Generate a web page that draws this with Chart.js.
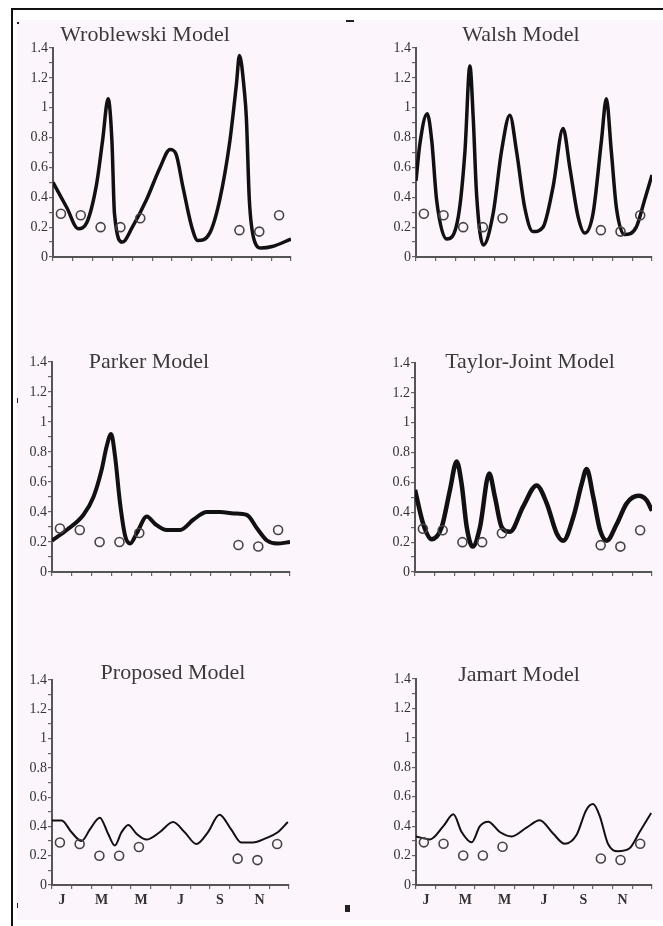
<!DOCTYPE html>
<html>
<head>
<meta charset="utf-8">
<script src="https://cdn.jsdelivr.net/npm/chart.js@4.4.1/dist/chart.umd.min.js"></script>
<style>
  body { margin: 0; width: 663px; height: 926px; overflow: hidden; position: relative; background: #fff; }
  #frame { position: absolute; left: 11px; top: 8px; width: 660px; height: 930px; border-top: 2px solid #111; border-left: 2px solid #111; }
  #paper { position: absolute; left: 17px; top: 20px; right: 0; bottom: 6px; background: #fcf5fc; }
  .speck { position: absolute; background: #222; }
  canvas { position: absolute; }
</style>
</head>
<body>
<div id="frame"></div>
<div id="paper"></div>
<div class="speck" style="left:17px;top:22px;width:2px;height:2px"></div>
<div class="speck" style="left:346px;top:20px;width:8px;height:2px"></div>
<div class="speck" style="left:17px;top:398px;width:1px;height:5px"></div>
<div class="speck" style="left:17px;top:903px;width:1px;height:5px"></div>
<div class="speck" style="left:345px;top:905px;width:5px;height:7px"></div>

<canvas id="c1"></canvas>
<canvas id="c2"></canvas>
<canvas id="c3"></canvas>
<canvas id="c4"></canvas>
<canvas id="c5"></canvas>
<canvas id="c6"></canvas>

<script>
// tick labels
const monthLabels = ['J', '', 'M', '', 'M', '', 'J', '', 'S', '', 'N', '', ''];
const yTickLabels = ['0', '0.2', '0.4', '0.6', '0.8', '1', '1.2', '1.4'];

// observed values (same in every panel), x in months from 1 Jan
const obsX = [0.4, 1.4, 2.4, 3.4, 4.4, 9.4, 10.4, 11.4];
const obsY = [0.29, 0.28, 0.20, 0.20, 0.26, 0.18, 0.17, 0.28];

// model curves
const wroX = [0, 0.7, 1.27, 1.7, 2.2, 2.5, 2.78, 2.97, 3.1, 3.5, 4.0, 4.7, 5.4, 5.9, 6.2, 6.55, 7.0, 7.3, 7.9, 8.4, 8.9, 9.25, 9.4, 9.65, 9.75, 9.9, 10.15, 10.5, 11.05, 12];
const wroY = [0.50, 0.33, 0.19, 0.23, 0.49, 0.78, 1.06, 0.78, 0.29, 0.10, 0.20, 0.38, 0.60, 0.72, 0.69, 0.47, 0.20, 0.11, 0.16, 0.38, 0.76, 1.16, 1.35, 1.11, 0.93, 0.38, 0.11, 0.06, 0.07, 0.12];

const walX = [0, 0.2, 0.57, 0.8, 1.05, 1.56, 2.15, 2.49, 2.74, 2.91, 3.08, 3.42, 3.92, 4.35, 4.77, 5.11, 5.53, 5.95, 6.46, 6.97, 7.48, 7.82, 8.24, 8.58, 9.0, 9.43, 9.68, 9.93, 10.19, 10.6, 11.2, 11.62, 12];
const walY = [0.51, 0.76, 0.96, 0.78, 0.38, 0.12, 0.27, 0.71, 1.28, 0.93, 0.42, 0.08, 0.29, 0.71, 0.95, 0.71, 0.33, 0.17, 0.20, 0.47, 0.86, 0.60, 0.27, 0.16, 0.29, 0.78, 1.06, 0.71, 0.33, 0.15, 0.20, 0.38, 0.55];

const parX = [0, 0.74, 1.58, 2.09, 2.5, 2.76, 2.98, 3.18, 3.43, 3.69, 3.94, 4.28, 4.78, 5.2, 5.79, 6.46, 7.14, 7.81, 8.48, 9.16, 9.83, 10.34, 10.84, 11.35, 12];
const parY = [0.21, 0.28, 0.38, 0.50, 0.68, 0.84, 0.92, 0.77, 0.46, 0.24, 0.19, 0.26, 0.37, 0.32, 0.28, 0.28, 0.35, 0.40, 0.40, 0.39, 0.38, 0.29, 0.21, 0.19, 0.20];

const tayX = [0, 0.42, 0.84, 1.35, 1.77, 2.11, 2.36, 2.62, 2.92, 3.29, 3.76, 4.05, 4.39, 4.81, 5.48, 6.16, 6.67, 7.17, 7.51, 8.02, 8.44, 8.69, 9.03, 9.37, 9.71, 10.21, 10.72, 11.31, 11.73, 12];
const tayY = [0.55, 0.32, 0.22, 0.30, 0.55, 0.74, 0.59, 0.30, 0.17, 0.30, 0.66, 0.50, 0.30, 0.27, 0.44, 0.58, 0.46, 0.26, 0.21, 0.37, 0.59, 0.69, 0.50, 0.28, 0.21, 0.32, 0.46, 0.51, 0.48, 0.41];

const proX = [0, 0.49, 0.99, 1.5, 1.92, 2.42, 2.84, 3.18, 3.52, 3.86, 4.28, 4.78, 5.45, 6.13, 6.72, 7.31, 7.89, 8.48, 9.07, 9.58, 10.17, 10.84, 11.43, 11.94];
const proY = [0.44, 0.44, 0.36, 0.30, 0.38, 0.46, 0.35, 0.27, 0.36, 0.41, 0.35, 0.31, 0.36, 0.43, 0.36, 0.28, 0.36, 0.48, 0.38, 0.29, 0.29, 0.32, 0.36, 0.43];

const jamX = [0, 0.71, 1.39, 1.9, 2.32, 2.83, 3.25, 3.67, 4.26, 4.86, 5.62, 6.29, 6.97, 7.56, 8.16, 8.66, 9.0, 9.34, 9.76, 10.27, 10.86, 11.37, 11.96];
const jamY = [0.33, 0.31, 0.40, 0.48, 0.36, 0.29, 0.40, 0.43, 0.36, 0.33, 0.39, 0.44, 0.35, 0.28, 0.34, 0.51, 0.55, 0.47, 0.28, 0.23, 0.25, 0.36, 0.49];

// where each small chart sits on the page (plot area box) and its title offset
const panels = [
  { id: 'c1', title: 'Wroblewski Model', xs: wroX, ys: wroY, left: 53,  top: 48,  w: 238, h: 209, tdx: 92,  tdy: -13, lw: 3.5, months: false },
  { id: 'c2', title: 'Walsh Model',      xs: walX, ys: walY, left: 416, top: 48,  w: 236, h: 209, tdx: 105, tdy: -13, lw: 3.5, months: false },
  { id: 'c3', title: 'Parker Model',     xs: parX, ys: parY, left: 52,  top: 362, w: 238, h: 210, tdx: 97,  tdy: 0,   lw: 4,   months: false },
  { id: 'c4', title: 'Taylor-Joint Model', xs: tayX, ys: tayY, left: 415, top: 363, w: 237, h: 209, tdx: 115, tdy: -1, lw: 4.5, months: false },
  { id: 'c5', title: 'Proposed Model',   xs: proX, ys: proY, left: 52,  top: 680, w: 237, h: 205, tdx: 121, tdy: -7,  lw: 2,   months: true },
  { id: 'c6', title: 'Jamart Model',     xs: jamX, ys: jamY, left: 416, top: 679, w: 236, h: 206, tdx: 103, tdy: -4,  lw: 2,   months: true }
];

const AXW = 45, PADT = 32, PADR = 10, AXH = 28;
const serif = '"Liberation Serif", "Times New Roman", serif';

const panelTitle = {
  id: 'panelTitle',
  afterDraw(chart, args, opts) {
    const { ctx, chartArea } = chart;
    ctx.save();
    ctx.font = '22px ' + serif;
    ctx.fillStyle = '#3a3a3a';
    ctx.textAlign = 'center';
    ctx.textBaseline = 'middle';
    ctx.fillText(opts.text, chartArea.left + opts.dx, chartArea.top + opts.dy);
    ctx.restore();
  }
};

panels.forEach(p => {
  const cv = document.getElementById(p.id);
  cv.width = AXW + p.w + PADR;
  cv.height = PADT + p.h + AXH;
  cv.style.left = (p.left - AXW) + 'px';
  cv.style.top = (p.top - PADT) + 'px';

  new Chart(cv.getContext('2d'), {
    type: 'scatter',
    data: {
      datasets: [
        {
          data: obsX.map((x, i) => ({ x: x, y: obsY[i] })),
          showLine: false,
          pointStyle: 'circle',
          pointRadius: 4.5,
          pointBorderWidth: 1.6,
          pointBorderColor: '#444',
          pointBackgroundColor: 'rgba(0,0,0,0)',
          order: 0
        },
        {
          data: p.xs.map((x, i) => ({ x: x, y: p.ys[i] })),
          showLine: true,
          borderColor: '#111',
          borderWidth: p.lw,
          pointRadius: 0,
          cubicInterpolationMode: 'monotone',
          order: 1
        }
      ]
    },
    options: {
      responsive: false,
      animation: false,
      layout: { padding: { top: PADT, right: PADR, left: 0, bottom: 0 } },
      plugins: {
        legend: { display: false },
        tooltip: { enabled: false },
        panelTitle: { text: p.title, dx: p.tdx, dy: p.tdy }
      },
      scales: {
        x: {
          type: 'linear',
          min: 0,
          max: 12,
          afterFit: s => { s.height = AXH; },
          grid: { drawOnChartArea: false, tickLength: 4, color: '#666', lineWidth: 1.2 },
          border: { color: '#555', width: 2 },
          ticks: {
            stepSize: 1,
            autoSkip: false,
            maxRotation: 0,
            labelOffset: 10,
            padding: 3,
            color: '#333',
            font: { family: serif, size: 14, weight: 'bold' },
            callback: v => p.months ? (monthLabels[Math.round(v)] || '') : ''
          }
        },
        y: {
          min: 0,
          max: 1.4,
          afterFit: s => { s.width = AXW; },
          grid: { drawOnChartArea: false, tickLength: 4, color: '#666', lineWidth: 1.2 },
          border: { color: '#555', width: 2 },
          ticks: {
            stepSize: 0.1,
            autoSkip: false,
            padding: 1,
            color: '#333',
            font: { family: serif, size: 14 },
            callback: v => {
              const k = Math.round(v * 10);
              return k % 2 === 0 ? yTickLabels[k / 2] : '';
            }
          }
        }
      }
    },
    plugins: [panelTitle]
  });
});
</script>
</body>
</html>
